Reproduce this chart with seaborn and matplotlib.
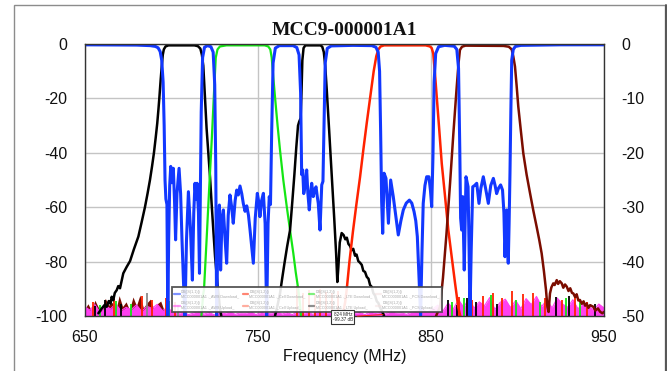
import numpy as np
import pandas as pd
import matplotlib
matplotlib.use('Agg')
import matplotlib.pyplot as plt
from matplotlib.lines import Line2D
from matplotlib.patches import Rectangle
import seaborn as sns

# %% Chart values read off the sweep (MHz, dB)
title = 'MCC9-000001A1'
x_ticks = [650, 750, 850, 950]
left_ticks = [0, -20, -40, -60, -80, -100]
right_ticks = [0, -10, -20, -30, -40, -50]

# common port return loss (blue)
s11 = [(650, -0.3), (680, -0.4), (688, -0.6), (691, -0.9), (692.5, -1.4), (693.7, -2.8),
       (694.6, -6), (695.4, -14), (696.0, -30), (696.5, -50), (697.0, -57), (697.6, -59),
       (698.1, -100), (698.6, -72), (699.2, -52), (699.8, -45), (700.5, -51), (701.3, -45.7),
       (702.0, -58), (702.6, -72), (703.4, -55), (704.6, -45.7), (705.5, -55), (706.3, -72),
       (707.2, -88), (708.0, -100), (708.9, -72), (710.0, -54.3), (711.2, -68), (712.3, -86.8),
       (713.1, -62), (713.8, -51.2), (714.4, -57), (715.0, -51.2), (715.8, -62), (716.4, -84.3),
       (716.9, -55), (717.4, -25), (718.2, -5), (719.3, -1.2), (721.0, -0.6), (723.0, -1.0),
       (724.3, -3), (725.2, -15), (725.8, -45), (726.3, -100), (727.1, -68), (727.9, -59.2),
       (728.6, -83.1), (729.4, -64), (730.2, -61.0), (731.2, -72), (732.1, -80.6), (733.0, -63),
       (734.0, -55.5), (735.0, -60), (735.9, -65.9), (737.0, -57.5), (737.9, -53.7), (738.8, -55.5),
       (739.8, -52.2), (740.8, -55), (741.7, -58.6), (742.7, -61.5), (743.7, -59.5), (744.7, -63),
       (745.6, -68.4), (746.6, -75), (747.5, -80.6), (748.6, -64), (749.8, -54.9), (750.6, -58),
       (751.3, -63.5), (752.3, -57.5), (753.3, -54.9), (754.3, -66), (755.2, -100), (756.0, -66),
       (756.7, -56.1), (757.4, -59), (758.1, -32), (758.9, -7), (760.2, -1.5), (762.5, -0.6),
       (770.5, -0.6), (772.6, -1.3), (773.9, -4), (774.8, -18), (775.4, -48), (776.0, -46.3),
       (776.6, -55), (777.3, -52.5), (778.3, -46.3), (779.0, -55), (779.8, -61.0), (780.5, -55),
       (781.2, -51.2), (782.1, -56.1), (782.9, -53.5), (783.7, -52.5), (784.4, -56), (785.0, -58.6),
       (786.0, -68.4), (787.0, -51.8), (787.7, -50.5), (788.3, -30), (789.0, -7), (790.2, -1.6),
       (792.5, -0.7), (805, -0.5), (816, -0.6), (818.3, -1.2), (819.6, -3), (820.4, -10),
       (821.0, -32), (821.6, -58), (822.2, -69.6), (823.0, -47.5), (824.1, -49.4), (825.5, -65.9),
       (826.8, -50.0), (828.3, -56.1), (829.8, -63.5), (831.2, -70.2), (832.7, -65), (834.1, -61.0),
       (835.8, -58.5), (837.6, -57.4), (839.0, -58.5), (840.3, -61.6), (841.3, -65), (842.2, -70.8),
       (843.2, -86), (844.1, -100), (844.9, -76), (845.6, -58.6), (846.6, -52), (847.6, -48.8),
       (848.9, -48.8), (849.8, -54), (850.5, -59.8), (851.2, -42), (851.9, -14), (852.8, -3.5),
       (854.5, -1.0), (858, -0.5), (863.5, -0.8), (865.0, -2), (866.0, -9), (866.7, -38),
       (867.2, -64), (867.8, -68.4), (868.4, -56.1), (869.3, -83.1), (870.3, -48.8), (871.5, -52.5),
       (872.1, -76), (872.6, -100), (873.3, -76), (874.2, -52.5), (875.3, -52), (876.5, -51.2),
       (877.8, -58.6), (878.9, -53), (880.3, -48.8), (881.6, -53), (883.2, -58.6), (884.6, -52),
       (886.1, -49.4), (887.1, -52), (888.0, -55), (889.1, -53), (890.3, -51.8), (891.4, -53.7),
       (892.2, -62), (892.8, -78.2), (893.8, -61.0), (894.7, -80.6), (895.2, -66), (895.7, -47.5),
       (896.2, -25), (896.7, -6), (897.6, -2), (898.8, -0.9), (902, -0.5), (925, -0.3), (950, -0.3)]

# black channel near 706 MHz
ch_706 = [(658, -99), (660, -97.2), (661.5, -96.0), (662.8, -96.6), (664, -94.5), (665.0, -95.5),
          (665.7, -92.9), (666.6, -94.2), (667.5, -91.5), (668.6, -90.5), (669.5, -89.0), (670.5, -89.8),
          (672.4, -84.3), (674.3, -82.0), (676.3, -79.8), (678.5, -75.5), (681.1, -70.8), (683.0, -65.5),
          (684.9, -60.0), (686.4, -55.0), (687.8, -50.0), (689.0, -45.0), (690.1, -40.0), (691.1, -34.5),
          (692.0, -29.2), (692.7, -24), (693.2, -20.0), (694.0, -13), (694.6, -8.3), (695.2, -4),
          (695.8, -2.0), (696.8, -0.9), (698.5, -0.5), (713.5, -0.5), (715.5, -0.8), (716.9, -1.7),
          (717.8, -4), (718.6, -8), (719.6, -20), (720.5, -31), (721.5, -40), (722.5, -49),
          (723.4, -58.6), (724.4, -68.5), (725.4, -78.2), (726.4, -85.5), (727.3, -91.7), (728.3, -97.5),
          (729, -100)]

# green channel near 742 MHz
ch_742 = [(717.5, -100), (718.6, -91.7), (719.0, -90.4), (720.5, -72), (722, -53), (723.5, -35),
          (725, -15), (725.8, -5), (726.8, -2), (728.2, -0.9), (732, -0.5), (754, -0.5),
          (756.1, -0.9), (757.3, -2), (758.1, -5), (759.0, -12), (760, -19.4), (761.5, -30),
          (762.9, -39), (764.8, -50), (766.8, -59.8), (768.7, -68.5), (770.6, -77), (772, -84),
          (773.5, -90.4), (774.5, -96), (775, -100)]

# black channel near 782 MHz
ch_782 = [(760.0, -100), (761.5, -96), (762.9, -91.7), (764.2, -86), (765.5, -80.5), (767.0, -74.5),
          (768.7, -68.4), (770.0, -58), (771.2, -48), (772.3, -38), (773.3, -30), (774.0, -28.5),
          (774.8, -27.3), (775.3, -18), (775.8, -6), (776.5, -1.5), (777.5, -0.5), (786.3, -0.5),
          (787.3, -1.0), (788.2, -3.0), (789.0, -8), (789.9, -16.9), (791.3, -32), (792.7, -47.5),
          (794.2, -64), (795.3, -77), (796.0, -87.5), (796.6, -82), (797.4, -73), (798.5, -69.5),
          (799.6, -70.2), (800.6, -71.8), (801.5, -71.2), (802.4, -73.5), (803.3, -74.2), (804.3, -75.8),
          (805.2, -75.3), (806.2, -77.8), (807.1, -77.4), (808.1, -79.8), (809.1, -80.4), (810.1, -81.2),
          (811.0, -83.4), (812.0, -83.8), (813.0, -85.6), (814.0, -86.3), (814.9, -88.6), (815.9, -89.3),
          (816.8, -91.6), (817.8, -92.5), (818.8, -94.6), (819.7, -95.2), (820.6, -96.8), (821.8, -98.2),
          (823.0, -100)]

# red channel near 836 MHz
ch_836 = [(799, -100), (800.5, -95), (801.4, -90.4), (803, -80), (805, -69), (807, -59),
          (809.1, -49), (811, -39), (813, -29), (815, -19.5), (817, -10), (818.5, -4.5),
          (819.7, -2.0), (821, -0.9), (823, -0.5), (847, -0.5), (849.5, -0.9), (850.5, -1.5),
          (851.4, -3.5), (852.4, -11), (853.4, -19.4), (854.8, -31), (856.3, -43.9), (858.2, -56),
          (860.1, -68.4), (862, -78), (864.0, -88), (865.8, -96.6), (867, -100)]

# brown channel near 882 MHz
ch_882 = [(853, -100), (855.3, -96.6), (857, -86), (859, -70), (861.1, -51.2), (863, -33),
          (864.8, -17), (866, -7), (866.8, -2.2), (868, -1.0), (870, -0.6), (892, -0.7),
          (895, -1), (896.7, -2), (897.6, -4.5), (898.6, -8.3), (899.5, -15), (900.5, -23.0),
          (902, -32), (903.4, -40.2), (905.3, -48), (907.3, -54.9), (909.2, -61.3), (911.1, -67.2),
          (912.6, -72), (914.0, -77.0), (915.3, -83.5), (916.5, -90.4), (917.3, -96.6), (918, -98.5),
          (918.8, -91.7), (919.6, -89.5), (920.7, -88.0), (921.5, -88.6), (922.7, -86.8), (923.5, -88.2),
          (924.5, -87.2), (925.6, -88.0), (926.5, -89.6), (927.5, -88.4), (928.5, -89.2), (929.5, -90.8),
          (930.5, -89.8), (931.5, -91.5), (932.3, -91.7), (933.3, -93), (934.2, -92), (935.2, -94.3),
          (936.1, -94.1), (937.2, -95.5), (938.2, -94.6), (939.1, -96.2), (940.0, -95.4), (941, -97),
          (942, -96), (943.8, -96.6), (945, -98), (946.5, -97.2), (947.7, -98.4), (949, -99), (950, -98.5)]

# magenta isolation trace sitting on the noise floor, every 3 MHz from 650
floor_mhz = list(range(650, 951, 3))
floor_db = [-96.5, -97.8, -95.8, -98.6, -96.2, -97.4, -95.5, -98.1, -96.8, -97.6, -95.9, -98.3,
            -96.4, -97.2, -95.7, -98.0, -96.9,
            -98.6, -99.2, -98.4, -99.5, -98.9, -98.2, -99.3, -98.7, -99.6, -98.5,
            -99.1, -98.3, -99.4, -98.8, -99.0, -98.4, -99.5, -98.6, -99.2, -98.9,
            -98.1, -99.3, -98.7, -99.5, -98.4, -99.0, -98.6, -99.4, -98.2, -99.1,
            -98.8, -99.6, -98.5, -99.2, -98.3, -99.0, -98.7, -99.5, -98.4, -99.1,
            -98.6, -99.3, -98.2, -99.0, -98.8, -99.4, -98.5, -98.1, -97.6, -98.4,
            -97.5, -96.0, -98.2, -95.2, -97.4, -94.0, -96.8, -93.5, -97.1, -94.8, -96.2, -93.2,
            -97.6, -95.0, -93.8, -96.9, -94.3, -97.3, -93.6, -95.8, -92.8, -96.5, -94.1, -97.0,
            -93.4, -95.6, -96.8, -94.0, -97.4, -95.1, -96.3, -97.8, -95.6, -97.0]

# dark red floor at the low end, every 2 MHz from 650
brown_floor_mhz = list(range(650, 701, 2))
brown_floor_db = [-97.5, -95.5, -98.0, -94.2, -96.8, -97.9, -93.5, -96.0, -95.0, -98.2, -92.5, -96.5,
                  -94.8, -97.7, -93.0, -96.2, -92.3, -97.0, -95.2, -93.8, -97.4, -95.5, -94.5, -98.0,
                  -96.5, -99.0]

# single noise spikes of the other traces
red_spikes = [(655, -95), (667, -93.5), (683, -92.8), (689, -94), (697, -93.3), (702, -95),
              (772.5, -89), (776, -91.5), (779.5, -90.5), (783, -91.8), (786, -90), (789.5, -91),
              (793, -91.5), (796.5, -90.8), (862, -96), (866, -93), (874, -94), (880, -92.5),
              (886, -91.5), (891, -93.5), (897, -90.8), (903, -92), (909, -91.5), (916, -93.2),
              (926, -94), (933, -92.5), (940, -95)]
green_spikes = [(659, -96), (668, -94.5), (677, -95.5), (699, -94.5), (862.5, -95), (869, -93.5),
                (885, -92.2), (899, -94), (913, -94.8), (928, -93.5), (936, -95)]
black_spikes = [(656, -96.5), (662, -94), (671, -95.5), (860, -94), (865, -96), (871, -93.5),
                (876, -95), (888, -95.5), (922, -93), (930, -92.7), (945, -95.5)]
gray_spikes = [(686, -91.5), (704, -96)]

marker_mhz, marker_db = 824, -99.37

legend_labels = ['DB(|S(1,1)|)\nMCC000001A1 ._AWS Download_',
                 'DB(|S(1,2)|)\nMCC000001A1 ._AWS Upload_',
                 'DB(|S(1,2)|)\nMCC000001A1 ._Cell Download_',
                 'DB(|S(1,2)|)\nMCC000001A1 ._Cell Upload_',
                 'DB(|S(1,2)|)\nMCC000001A1 ._LTE Download_',
                 'DB(|S(1,2)|)\nMCC000001A1 ._LTE Upload_',
                 'DB(|S(1,2)|)\nMCC000001A1 ._PCS Download_',
                 'DB(|S(1,2)|)\nMCC000001A1 ._PCS Upload_']
legend_colors = ['#1238ff', '#ff40f0', '#ff2200', '#ff6a50', '#14e614', '#333333', '#f4e0e0', '#f4e0e0']

# %% Style
sns.set_style('white')
plt.rcParams['font.family'] = ['Liberation Sans', 'DejaVu Sans']
plt.rcParams['axes.unicode_minus'] = False

BLUE, BLACK, GREEN, RED, BROWN, MAGENTA = '#1238ff', '#000000', '#14e614', '#ff2200', '#7b0d00', '#ff40f0'


def to_df(pts):
    return pd.DataFrame(pts, columns=['MHz', 'dB'])


fig = plt.figure(figsize=(6.68, 3.71), dpi=100)
ax = fig.add_axes([0.1265, 0.1482, 0.7777, 0.7332])

# %% Noise floor
ax.fill_between(brown_floor_mhz, -100, brown_floor_db, color=BROWN, lw=0, zorder=1)
ax.fill_between(floor_mhz, -100, floor_db, color=MAGENTA, lw=0, zorder=1.5)
sns.lineplot(x=floor_mhz, y=floor_db, color=MAGENTA, lw=0.8, ax=ax, estimator=None, sort=False, zorder=1.6)
for pts, col in [(red_spikes, RED), (green_spikes, GREEN), (black_spikes, BLACK), (gray_spikes, '#8a8a8a')]:
    d = to_df(pts)
    ax.vlines(d['MHz'], -100, d['dB'], color=col, lw=1.3, zorder=1.7)

# %% Filter traces
for pts, col, lw in [(ch_706, BLACK, 1.8), (ch_742, GREEN, 1.6), (ch_782, BLACK, 1.8),
                     (ch_836, RED, 1.8), (ch_882, BROWN, 1.8), (s11, BLUE, 2.2)]:
    d = to_df(pts)
    sns.lineplot(data=d, x='MHz', y='dB', color=col, lw=lw, ax=ax, estimator=None, sort=False, zorder=3)

# %% Axes
ax.set_xlim(650, 950)
ax.set_ylim(-100, 0)
ax.set_xticks(x_ticks, [str(v) for v in x_ticks])
ax.set_yticks(left_ticks, [str(v) for v in left_ticks])
ax.tick_params(axis='both', length=0, labelsize=11.5, colors='#111111')
ax.tick_params(axis='y', pad=12.5)
ax.tick_params(axis='x', pad=10)
ax.grid(True, color='#c4c4c4', lw=1.0)
ax.set_axisbelow(True)
for sp in ax.spines.values():
    sp.set_color('#333333')
    sp.set_linewidth(1.0)
    sp.set_zorder(5)
ax.set_xlabel('Frequency (MHz)', fontsize=11.5, labelpad=3, color='#111111')
ax.set_ylabel('')
ax.set_title(title, fontfamily='Liberation Serif', fontweight='bold', fontsize=14, pad=6.5, color='#111111')

ax2 = ax.twinx()
ax2.set_ylim(-50, 0)
ax2.set_yticks(right_ticks, [str(v) for v in right_ticks])
ax2.tick_params(axis='y', length=0, labelsize=11.5, pad=12.5, colors='#111111')
for sp in ax2.spines.values():
    sp.set_visible(False)

# %% Legend and marker
handles = [Line2D([], [], color=c, lw=1.6, alpha=0.55) for c in legend_colors]
leg = ax.legend(handles, legend_labels, ncol=4, loc='lower left',
                bbox_to_anchor=(0.165, 0.008),
                fontsize=2.7, frameon=True, fancybox=False, edgecolor='#444444',
                framealpha=0.9, handlelength=1.4, handletextpad=0.4, borderpad=0.6,
                labelspacing=0.8, columnspacing=0.9, labelcolor='#a8a8a8')
leg.get_frame().set_linewidth(1.3)
leg.set_zorder(6)

ax.annotate(f'{marker_mhz} MHz\n{marker_db} dB', xy=(marker_mhz, marker_db),
            xytext=(-31, -2), textcoords='offset points', fontsize=3.3, ha='center', va='center',
            bbox=dict(boxstyle='square,pad=0.3', fc='white', ec='#333333', lw=0.8),
            arrowprops=dict(arrowstyle='-', color=RED, lw=0.6), annotation_clip=False, zorder=7)

# outer panel frame
fig.patches.append(Rectangle((14 / 668, -0.05), 651 / 668, 1.05 - 4.7 / 371, transform=fig.transFigure,
                             fill=False, edgecolor='#8c8c8c', lw=1.0))
fig.lines.append(Line2D([665.5 / 668, 665.5 / 668], [0, 1 - 4.7 / 371], transform=fig.transFigure,
                        color='#555555', lw=1.4))

fig.savefig('out.png', dpi=100, facecolor='white')
